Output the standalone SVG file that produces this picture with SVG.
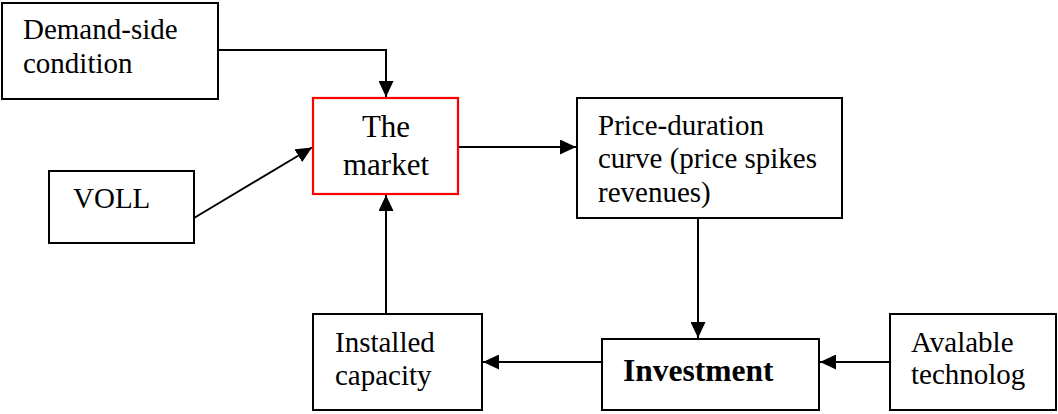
<svg xmlns="http://www.w3.org/2000/svg" width="1058" height="414" viewBox="0 0 1058 414">
<style>
.box{fill:#fff;stroke:#000;stroke-width:2}
.red{fill:#fff;stroke:#ff0000;stroke-width:2.2}
.t{font-family:"Liberation Serif","Times New Roman",serif;font-size:29px;fill:#000}
.m{font-family:"Liberation Serif","Times New Roman",serif;font-size:31px;fill:#000;text-anchor:middle}
.b{font-family:"Liberation Serif","Times New Roman",serif;font-size:31.5px;font-weight:bold;fill:#000}
.c{fill:none;stroke:#000;stroke-width:2}
</style>
<defs>
<marker id="arr" markerUnits="userSpaceOnUse" markerWidth="16" markerHeight="15" refX="16" refY="7.5" orient="auto">
<path d="M0,0 L16,7.5 L0,15 Z" fill="#000"/>
</marker>
</defs>
<rect width="1058" height="414" fill="#fff"/>
<g id="connectors">
<path class="c" d="M218,50 H386 V97" marker-end="url(#arr)"/>
<path class="c" d="M194,218 L312,147.5" marker-end="url(#arr)"/>
<path class="c" d="M386,314 V195" marker-end="url(#arr)"/>
<path class="c" d="M458,147 H576" marker-end="url(#arr)"/>
<path class="c" d="M698,218 V338" marker-end="url(#arr)"/>
<path class="c" d="M602,362 H483" marker-end="url(#arr)"/>
<path class="c" d="M890,362 H820" marker-end="url(#arr)"/>
</g>
<g id="demand">
<rect class="box" x="2" y="3" width="216" height="96"/>
<text class="t" x="23" y="39">Demand-side</text>
<text class="t" x="23" y="73">condition</text>
</g>
<g id="market">
<rect class="red" x="313" y="98" width="145" height="96"/>
<text class="m" x="386" y="137">The</text>
<text class="m" x="386" y="175">market</text>
</g>
<g id="voll">
<rect class="box" x="49" y="171" width="145" height="72"/>
<text class="t" x="73" y="208">VOLL</text>
</g>
<g id="price">
<rect class="box" x="577" y="98" width="265" height="120"/>
<text class="t" x="598" y="135">Price-duration</text>
<text class="t" x="598" y="168">curve (price spikes</text>
<text class="t" x="598" y="202">revenues)</text>
</g>
<g id="installed">
<rect class="box" x="313" y="314" width="169" height="96"/>
<text class="t" x="335" y="352">Installed</text>
<text class="t" x="335" y="385">capacity</text>
</g>
<g id="investment">
<rect class="box" x="602" y="339" width="217" height="71"/>
<text class="b" x="623" y="381">Investment</text>
</g>
<g id="available">
<rect class="box" x="890" y="314" width="166" height="96"/>
<text class="t" x="911" y="352">Avalable</text>
<text class="t" x="911" y="384">technolog</text>
</g>
</svg>
